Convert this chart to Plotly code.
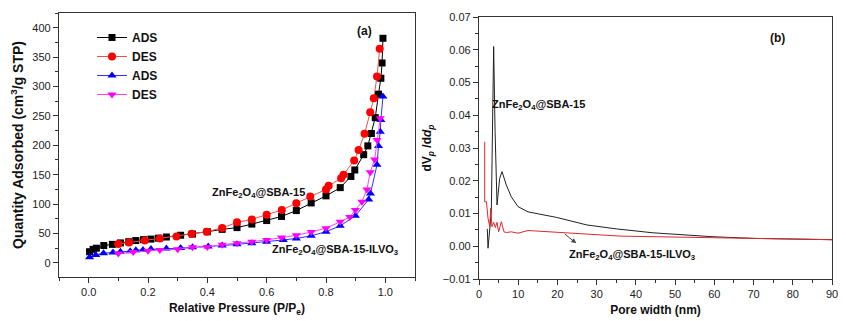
import plotly.graph_objects as go

# ---------------- data: N2 isotherms (panel a) ----------------
ads1_p = [0.003, 0.015, 0.026, 0.051, 0.08, 0.107, 0.135, 0.159, 0.185, 0.21, 0.235, 0.262, 0.31, 0.35,
          0.40, 0.45, 0.50, 0.55, 0.60, 0.65, 0.70, 0.75, 0.80, 0.848, 0.884, 0.897, 0.927, 0.941,
          0.953, 0.966, 0.977, 0.985, 0.989, 0.992]
ads1_v = [19, 23, 25, 29.5, 31.5, 34, 36, 38, 39.5, 40.5, 42, 44, 47, 49,
          53, 57, 60, 66, 72, 79, 89, 102, 114, 128, 147, 158, 184, 199,
          220, 247, 287, 314, 340, 382]

des1_p = [0.10, 0.136, 0.189, 0.24, 0.296, 0.347, 0.398, 0.45, 0.50, 0.55, 0.60, 0.651, 0.70, 0.747,
          0.80, 0.809, 0.851, 0.859, 0.895, 0.910, 0.930, 0.949, 0.961, 0.972, 0.981]
des1_v = [32, 34.6, 38, 41.5, 45, 49.4, 53, 59.5, 69, 74, 81.7, 90, 101.6, 113,
          125, 131, 144, 150, 174, 192, 219.5, 256, 280, 317, 364]

ads2_p = [0.003, 0.024, 0.05, 0.082, 0.107, 0.14, 0.159, 0.183, 0.21, 0.262, 0.31, 0.35, 0.403, 0.45,
          0.50, 0.55, 0.60, 0.656, 0.70, 0.75, 0.80, 0.848, 0.899, 0.944, 0.95, 0.972, 0.977,
          0.983, 0.985, 0.992]
ads2_v = [9.7, 13.6, 16.5, 17.5, 19, 20, 21.6, 22, 23.5, 24.4, 25.2, 26.5, 27.8, 29.5,
          31.5, 33.5, 36, 39, 41.6, 46, 53, 63, 80, 108, 118, 167, 199,
          223, 243, 283]

des2_p = [0.10, 0.15, 0.20, 0.24, 0.30, 0.35, 0.40, 0.45, 0.50, 0.55, 0.60, 0.65, 0.70, 0.75,
          0.80, 0.848, 0.88, 0.899, 0.921, 0.938, 0.949, 0.964, 0.972, 0.983]
des2_v = [16, 18.5, 20.5, 22, 23, 26.5, 27, 31, 33.5, 36, 39, 43, 47, 52.5,
          59, 70, 78, 90, 104, 125, 154, 176, 209, 246]

# ---------------- data: pore size distribution (panel b) ----------------
psd1_d = [2.12, 2.3, 3.14, 3.74, 4.1, 4.6, 5.27, 5.87, 6.96, 8.24, 9.95, 12.5, 19.8, 27.5,
          35, 44.4, 59.7, 70, 90]
psd1_v = [0.0053, -0.0006, 0.0106, 0.061, 0.035, 0.0126, 0.0207, 0.0228, 0.0187, 0.0151, 0.0121,
          0.0105, 0.0088, 0.0065, 0.0053, 0.0041, 0.0029, 0.0024, 0.002]

psd2_d = [1.45, 1.45, 1.9, 2.3, 2.73, 2.98, 3.3, 3.74, 4.16, 4.6, 5.0, 5.7, 6.37, 6.96, 8.24,
          9.94, 12.5, 21.5, 36, 55, 90]
psd2_v = [0.0319, 0.0136, 0.0136, 0.0085, 0.006, 0.0116, 0.006, 0.0073, 0.0057, 0.0073, 0.0044,
          0.0075, 0.0044, 0.0042, 0.0044, 0.004, 0.0048, 0.0041, 0.0031, 0.0027, 0.002]

FONT = "Liberation Sans, Arial, sans-serif"
AX = "#333333"

# The page body has an 8px default margin, so the figure is drawn 8px smaller
# and every target pixel position (window coordinates) is shifted by OFF.
OFF = 8
W, H = 846 - OFF, 321 - OFF
ML, MR, MT, MB = 59 - OFF, 14, 13 - OFF, 34
PW, PH = W - ML - MR, H - MT - MB


def xd(a, b):
    return [(a - OFF - ML) / PW, (b - OFF - ML) / PW]


def yd(top, bottom):
    return [(H - MB - (bottom - OFF)) / PH, (H - MB - (top - OFF)) / PH]


fig = go.Figure()
fig.add_trace(go.Scatter(x=ads1_p, y=ads1_v, mode="lines+markers", name="ADS",
                         line=dict(color="#000000", width=1),
                         marker=dict(symbol="square", size=7, color="#000000")))
fig.add_trace(go.Scatter(x=des1_p, y=des1_v, mode="lines+markers", name="DES",
                         line=dict(color="#f05050", width=1),
                         marker=dict(symbol="circle", size=8, color="#ff0000")))
fig.add_trace(go.Scatter(x=ads2_p, y=ads2_v, mode="lines+markers", name="ADS",
                         line=dict(color="#3030ff", width=1),
                         marker=dict(symbol="triangle-up", size=8, color="#0000ff")))
fig.add_trace(go.Scatter(x=des2_p, y=des2_v, mode="lines+markers", name="DES",
                         line=dict(color="#ff40ff", width=1),
                         marker=dict(symbol="triangle-down", size=8, color="#ff00ff")))

fig.add_trace(go.Scatter(x=psd1_d, y=psd1_v, mode="lines", showlegend=False,
                         line=dict(color="#222222", width=1), xaxis="x2", yaxis="y2"))
fig.add_trace(go.Scatter(x=psd2_d, y=psd2_v, mode="lines", showlegend=False,
                         line=dict(color="#e3262c", width=1), xaxis="x2", yaxis="y2"))

axis_common = dict(showline=True, mirror=True, linecolor=AX, linewidth=1.3,
                   ticks="outside", ticklen=5, tickwidth=1.2, tickcolor=AX,
                   showgrid=False, zeroline=False, automargin=False,
                   tickfont=dict(family=FONT, size=11, color="#222"))

fig.update_layout(
    width=W, height=H,
    margin=dict(l=ML, r=MR, t=MT, b=MB, autoexpand=False),
    paper_bgcolor="white", plot_bgcolor="white",
    font=dict(family=FONT, color="#111"),
    showlegend=True,
    legend=dict(x=(92 - OFF - ML) / PW, y=1 - 10 / PH, xanchor="left", yanchor="top",
                bgcolor="rgba(0,0,0,0)",
                font=dict(family=FONT, size=12, color="#111", weight="bold"),
                itemwidth=30, tracegroupgap=0),
    xaxis=dict(domain=xd(59, 415), range=[-0.1, 1.1], dtick=0.2, tick0=0, tickformat=".1f",
               minor=dict(ticks="outside", ticklen=3, dtick=0.1, tickcolor=AX),
               title=dict(text="Relative Pressure (P/P<sub>e</sub>)", standoff=6,
                          font=dict(family=FONT, size=12, weight="bold", color="#111")),
               anchor="y", **axis_common),
    yaxis=dict(domain=yd(13, 277), range=[-24, 425], dtick=50, tick0=0,
               minor=dict(ticks="outside", ticklen=3, dtick=25, tickcolor=AX),
               title=dict(text="Quantity Adsorbed (cm<sup>3</sup>/g STP)", standoff=6,
                          font=dict(family=FONT, size=14, weight="bold", color="#111")),
               anchor="x", **axis_common),
    xaxis2=dict(domain=xd(479, 832), range=[0, 90], dtick=10, tick0=0,
                minor=dict(ticks="outside", ticklen=3, dtick=5, tickcolor=AX),
                title=dict(text="Pore width (nm)", standoff=6,
                           font=dict(family=FONT, size=12, weight="bold", color="#111")),
                anchor="y2", **axis_common),
    yaxis2=dict(domain=yd(17, 279), range=[-0.01, 0.07], dtick=0.01, tick0=0,
                tickformat=".2f",
                minor=dict(ticks="outside", ticklen=3, dtick=0.005, tickcolor=AX),
                title=dict(text="dV<sub><i>p</i></sub> /d<i>d</i><sub><i>p</i></sub>", standoff=8,
                           font=dict(family=FONT, size=12, weight="bold", color="#111")),
                anchor="x2", **axis_common),
)

ann_font = dict(family=FONT, size=11, color="#111", weight="bold")
fig.add_annotation(x=0.929, y=395, xref="x", yref="y", text="(a)", showarrow=False,
                   font=dict(family=FONT, size=12, color="#111", weight="bold"))
fig.add_annotation(x=0.409, y=119, xref="x", yref="y", xanchor="left",
                   text="ZnFe<sub>2</sub>O<sub>4</sub>@SBA-15", showarrow=False, font=ann_font)
fig.add_annotation(x=0.611, y=22, xref="x", yref="y", xanchor="left",
                   text="ZnFe<sub>2</sub>O<sub>4</sub>@SBA-15-ILVO<sub>3</sub>", showarrow=False,
                   font=ann_font)
fig.add_annotation(x=76.2, y=0.0635, xref="x2", yref="y2", text="(b)", showarrow=False,
                   font=dict(family=FONT, size=12, color="#111", weight="bold"))
fig.add_annotation(x=2.8, y=0.0431, xref="x2", yref="y2", xanchor="left",
                   text="ZnFe<sub>2</sub>O<sub>4</sub>@SBA-15", showarrow=False, font=ann_font)
fig.add_annotation(x=22.4, y=-0.0027, xref="x2", yref="y2", xanchor="left",
                   text="ZnFe<sub>2</sub>O<sub>4</sub>@SBA-15-ILVO<sub>3</sub>", showarrow=False,
                   font=ann_font)
fig.add_annotation(x=24.8, y=0.0009, xref="x2", yref="y2",
                   ax=21.5, ay=0.0041, axref="x2", ayref="y2",
                   text="", showarrow=True, arrowhead=2, arrowsize=1, arrowwidth=1,
                   arrowcolor="#444")

fig.write_html("out.html")
